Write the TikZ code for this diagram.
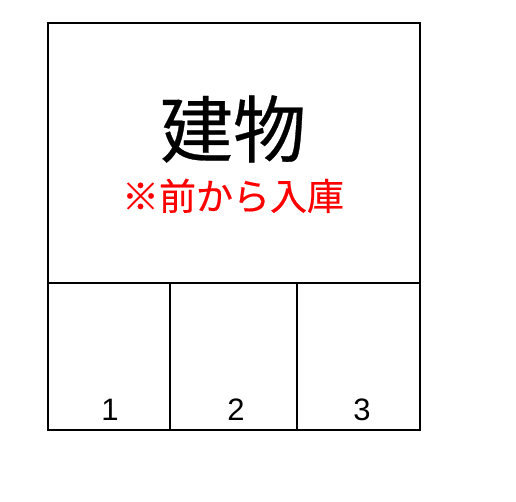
\documentclass[tikz,border=0pt]{standalone}
\usepackage{fontspec}
\setmainfont{Liberation Sans}
\newfontfamily\cjk[FakeBold=0.4]{Noto Sans CJK JP}
\usetikzlibrary{positioning}

\tikzset{
  lot/.style={draw,line width=2.6pt},
  lotno/.style={font=\fontsize{31}{31}\selectfont,anchor=base},
}

\begin{document}
\begin{tikzpicture}[x=1pt,y=-1pt]
\useasboundingbox (0,0) rectangle (516,502);
% building
\draw[lot] (48,23) rectangle (420,283);
\node (bldg) at (233,129) {\cjk\fontsize{73}{73}\selectfont 建物};
\node[text=red,below=9pt of bldg] (note) {\cjk\fontsize{37}{37}\selectfont ※前から入庫};
% parking
\draw[lot] (48,283) rectangle (170,430);
\draw[lot] (170,283) rectangle (297,430);
\draw[lot] (297,283) rectangle (420,430);
\node[lotno] (p1) at (110,420) {1};
\node[lotno] (p2) at (236,420) {2};
\node[lotno] (p3) at (362,420) {3};
\end{tikzpicture}
\end{document}
